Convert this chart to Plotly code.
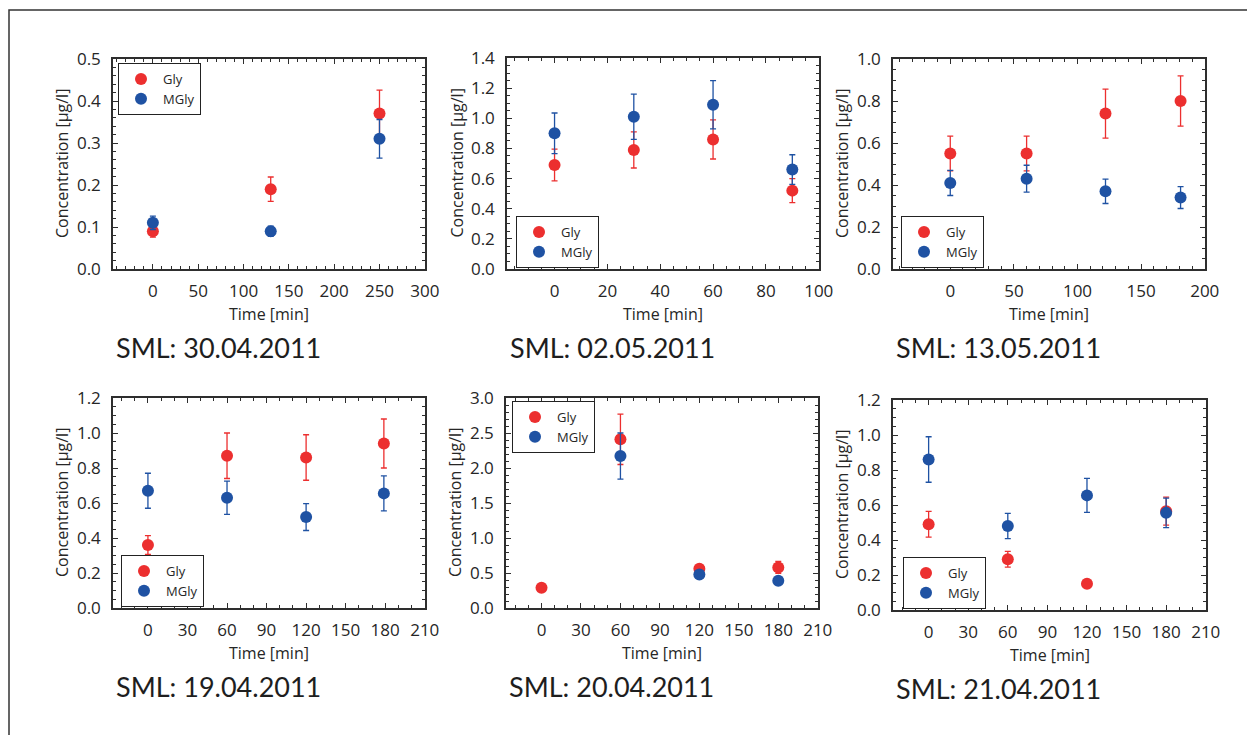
import plotly.graph_objects as go

W, H = 1247, 735

# ---- measurement data: time [min], concentration [µg/l] and its uncertainty ----
titles = ["SML: 30.04.2011", "SML: 02.05.2011", "SML: 13.05.2011",
          "SML: 19.04.2011", "SML: 20.04.2011", "SML: 21.04.2011"]

time_3004 = [0, 130, 250]
gly_3004 = [0.09, 0.19, 0.37]
gly_err_3004 = [0.014, 0.029, 0.056]
mgly_3004 = [0.11, 0.09, 0.31]
mgly_err_3004 = [0.016, 0.012, 0.046]

time_0205 = [0, 30, 60, 90]
gly_0205 = [0.69, 0.79, 0.86, 0.52]
gly_err_0205 = [0.105, 0.12, 0.13, 0.08]
mgly_0205 = [0.90, 1.01, 1.09, 0.66]
mgly_err_0205 = [0.135, 0.15, 0.16, 0.098]

time_1305 = [0, 60, 122, 181]
gly_1305 = [0.55, 0.55, 0.74, 0.80]
gly_err_1305 = [0.083, 0.083, 0.117, 0.12]
mgly_1305 = [0.41, 0.43, 0.37, 0.34]
mgly_err_1305 = [0.06, 0.064, 0.058, 0.052]

time_1904 = [0, 60, 120, 179]
gly_1904 = [0.36, 0.87, 0.86, 0.94]
gly_err_1904 = [0.054, 0.13, 0.13, 0.14]
mgly_1904 = [0.67, 0.63, 0.52, 0.655]
mgly_err_1904 = [0.10, 0.095, 0.077, 0.10]

time_2004 = [0, 60, 120, 180]
gly_2004 = [0.29, 2.41, 0.56, 0.58]
gly_err_2004 = [0.02, 0.36, 0.06, 0.085]
mgly_2004 = [None, 2.17, 0.48, 0.39]
mgly_err_2004 = [None, 0.33, 0.035, 0.02]

time_2104 = [0, 60, 120, 180]
gly_2104 = [0.49, 0.29, 0.15, 0.565]
gly_err_2104 = [0.074, 0.045, 0.01, 0.08]
mgly_2104 = [0.86, 0.48, 0.655, 0.555]
mgly_err_2104 = [0.13, 0.072, 0.097, 0.084]

# ---- per-panel layout (pixel boxes) and axis settings ----
# leg = (left px, anchor y px, "top"/"bottom")
panels = [
    dict(t=time_3004, g=gly_3004, ge=gly_err_3004, m=mgly_3004, me=mgly_err_3004,
         box=(113, 425, 59, 269), xr=[-44, 300.2], xd=50, xm=10, yr=[0, 0.5], yd=0.1, ym=0.02,
         leg=(118, 63, "top")),
    dict(t=time_0205, g=gly_0205, ge=gly_err_0205, m=mgly_0205, me=mgly_err_0205,
         box=(507, 819, 58, 269), xr=[-18, 100.1], xd=20, xm=5, yr=[0, 1.4], yd=0.2, ym=0.05,
         leg=(516, 268, "bottom")),
    dict(t=time_1305, g=gly_1305, ge=gly_err_1305, m=mgly_1305, me=mgly_err_1305,
         box=(893, 1205, 59, 269), xr=[-45, 200.2], xd=50, xm=10, yr=[0, 1.0], yd=0.2, ym=0.05,
         leg=(901, 268, "bottom")),
    dict(t=time_1904, g=gly_1904, ge=gly_err_1904, m=mgly_1904, me=mgly_err_1904,
         box=(113, 425, 398, 608), xr=[-26.5, 210.2], xd=30, xm=10, yr=[0, 1.2], yd=0.2, ym=0.05,
         leg=(121, 607, "bottom")),
    dict(t=time_2004, g=gly_2004, ge=gly_err_2004, m=mgly_2004, me=mgly_err_2004,
         box=(506, 818, 398, 608), xr=[-27, 210.2], xd=30, xm=10, yr=[0, 3.0], yd=0.5, ym=0.1,
         leg=(512, 401, "top")),
    dict(t=time_2104, g=gly_2104, ge=gly_err_2104, m=mgly_2104, me=mgly_err_2104,
         box=(893, 1206, 400, 610), xr=[-27, 210.2], xd=30, xm=10, yr=[0, 1.2], yd=0.2, ym=0.05,
         leg=(903, 609, "bottom")),
]

RED = "#EC2F2F"
BLUE = "#1F52A3"
AX = "#2e2e2e"
TXT = "#262626"
FONT = "Open Sans"

fig = go.Figure()
layout = dict(width=W, height=H,
              margin=dict(l=0, r=0, t=0, b=0, autoexpand=False),
              paper_bgcolor="white", plot_bgcolor="white", showlegend=True)
annotations = []
shapes = []

for i, p in enumerate(panels, start=1):
    sfx = "" if i == 1 else str(i)
    xa, ya = f"x{sfx}", f"y{sfx}"
    legname = "legend" if i == 1 else f"legend{i}"
    x0, x1, y0, y1 = p["box"]

    for name, vals, errs, col in (("Gly", p["g"], p["ge"], RED),
                                  ("MGly", p["m"], p["me"], BLUE)):
        fig.add_trace(go.Scatter(
            x=p["t"], y=vals, name=name, mode="markers",
            xaxis=xa, yaxis=ya, legend=legname,
            marker=dict(color=col, size=12, line=dict(width=0)),
            error_y=dict(type="data", array=errs, visible=True,
                         color=col, thickness=1.3, width=3),
        ))

    common = dict(showline=True, linecolor=AX, linewidth=1.5, mirror="allticks",
                  ticks="inside", ticklen=5, tickwidth=1.2, tickcolor=AX,
                  showgrid=False, zeroline=False,
                  tickfont=dict(family=FONT, size=17, color=TXT),
                  minor=dict(ticks="inside", ticklen=3, tickwidth=1, tickcolor=AX,
                             showgrid=False))
    xaxis = dict(common, domain=[x0 / W, x1 / W], range=p["xr"], tick0=0,
                 dtick=p["xd"], anchor=ya, ticklabelstandoff=6)
    xaxis["minor"] = dict(common["minor"], dtick=p["xm"], tick0=0)
    yaxis = dict(common, domain=[1 - y1 / H, 1 - y0 / H], range=p["yr"], tick0=0,
                 dtick=p["yd"], anchor=xa, tickformat=".1f", ticklabelstandoff=7)
    yaxis["minor"] = dict(common["minor"], dtick=p["ym"], tick0=0)
    layout[f"xaxis{sfx}"] = xaxis
    layout[f"yaxis{sfx}"] = yaxis

    lx, ly, lanchor = p["leg"]
    layout[legname] = dict(x=lx / W, y=1 - ly / H, xanchor="left", yanchor=lanchor,
                           xref="paper", yref="paper",
                           bgcolor="white", bordercolor="#222", borderwidth=1,
                           font=dict(family=FONT, size=13, color=TXT),
                           tracegroupgap=0, itemsizing="constant", itemwidth=34)

    # axis titles
    annotations.append(dict(text="Concentration [µg/l]", textangle=-90,
                            xref="paper", yref="paper", x=(x0 - 51) / W,
                            y=1 - (y0 + y1) / 2 / H, xanchor="center", yanchor="middle",
                            showarrow=False, font=dict(family=FONT, size=16, color=TXT)))
    annotations.append(dict(text="Time [min]", xref="paper", yref="paper",
                            x=(x0 + x1) / 2 / W, y=1 - (y1 + 45) / H,
                            xanchor="center", yanchor="middle", showarrow=False,
                            font=dict(family=FONT, size=16, color=TXT)))
    # sampling-day label under each panel
    annotations.append(dict(text=titles[i - 1], xref="paper", yref="paper",
                            x=(x0 + 1) / W, y=1 - (y1 + 78) / H,
                            xanchor="left", yanchor="middle", showarrow=False,
                            font=dict(family="Lato", size=27, color="#1e1e1e")))

# outer frame (left and top edge)
shapes.append(dict(type="path", xref="paper", yref="paper",
                   path=f"M {9 / W} 0 L {9 / W} {1 - 10 / H} L 1 {1 - 10 / H}",
                   line=dict(color="#333", width=1.5)))

layout["annotations"] = annotations
layout["shapes"] = shapes
fig.update_layout(**layout)

fig.write_html("out.html")
